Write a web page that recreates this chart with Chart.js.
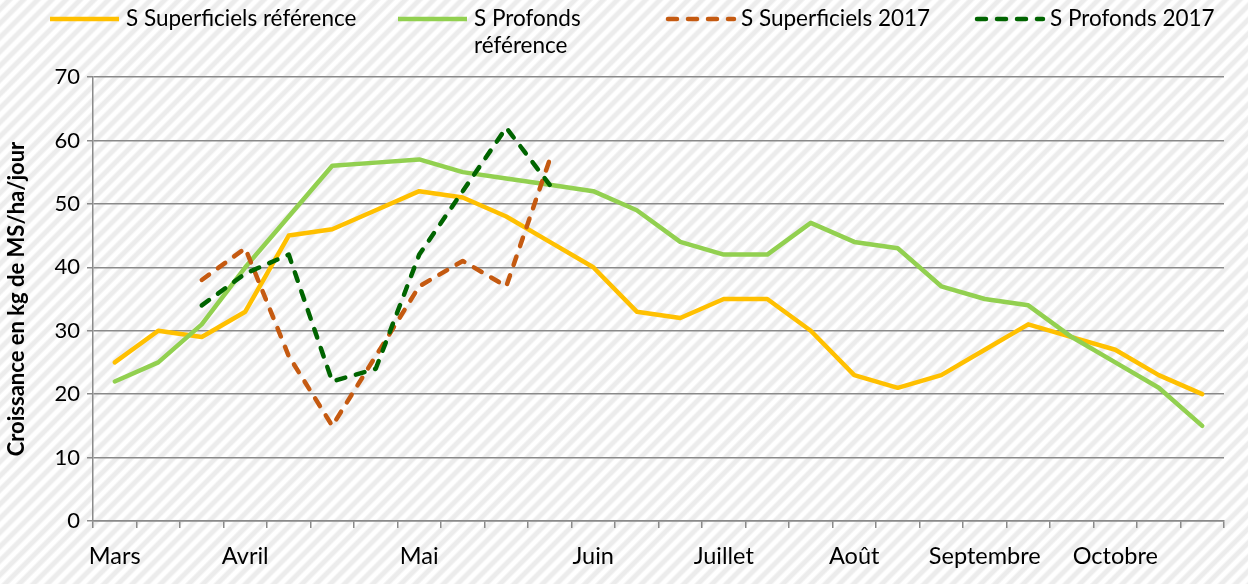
<!DOCTYPE html>
<html>
<head>
<meta charset="utf-8">
<script src="https://cdn.jsdelivr.net/npm/chart.js@4.4.1/dist/chart.umd.min.js"></script>
<style>
  html, body { margin: 0; padding: 0; }
  body {
    width: 1248px; height: 584px; overflow: hidden;
    background: repeating-linear-gradient(135deg, #ffffff 0px, #ffffff 3px, #ececec 5px, #ececec 8px, #ffffff 10px);
  }
  #wrap { position: relative; width: 1248px; height: 584px; }
</style>
</head>
<body>
<div id="wrap"><canvas id="c"></canvas></div>
<script>
// ---- data ----
const categories = ['Mars','','','Avril','','','','Mai','','','','Juin','','','Juillet','','','Août','','','Septembre','','','Octobre','',''];
const superficielsRef = [25,30,29,33,45,46,49,52,51,48,44,40,33,32,35,35,30,23,21,23,27,31,29,27,23,20];
const profondsRef = [22,25,31,40,48,56,56.5,57,55,54,53,52,49,44,42,42,47,44,43,37,35,34,29,25,21,15];
const superficiels2017 = [null,null,38,43,26,15,26,37,41,37,57,null,null,null,null,null,null,null,null,null,null,null,null,null,null,null];
const profonds2017 = [null,null,34,39,42,22,24,42,52,62,53,null,null,null,null,null,null,null,null,null,null,null,null,null,null,null];
const seriesNames = ['S Superficiels référence','S Profonds référence','S Superficiels 2017','S Profonds 2017'];
const legendLines = [['S Superficiels référence'],['S Profonds','référence'],['S Superficiels 2017'],['S Profonds 2017']];
const yTicks = [0,10,20,30,40,50,60,70];
const yTitle = 'Croissance en kg de MS/ha/jour';

const FONT = 'Lato, "Open Sans", sans-serif';
const GRID = '#8a8a8a';
const colors = ['#FFC000', '#92D050', '#C55A11', '#006400'];
const dash = [9, 11];

const legendPlugin = {
  id: 'excelLegend',
  afterDraw(chart) {
    const c = chart.ctx;
    const starts = [50, 398, 665, 974];
    const lineLen = 69, gap = 7, y0 = 19, lh = 27;
    c.save();
    chart.data.datasets.forEach((ds, i) => {
      const x = starts[i];
      c.beginPath();
      c.strokeStyle = ds.borderColor;
      c.lineWidth = 4.5;
      c.lineCap = ds.borderDash ? 'round' : 'butt';
      c.setLineDash(ds.borderDash || []);
      c.moveTo(x + (ds.borderDash ? 3 : 0), y0);
      c.lineTo(x + lineLen, y0);
      c.stroke();
      c.setLineDash([]);
      c.fillStyle = '#000';
      c.font = '22.5px ' + FONT;
      c.textBaseline = 'middle';
      c.textAlign = 'left';
      legendLines[i].forEach((t, k) => c.fillText(t, x + lineLen + gap, y0 + k * lh));
    });
    c.restore();
  }
};

const mk = (label, data, color, dashed, order) => ({
  label, data, borderColor: color, backgroundColor: color,
  borderWidth: 4.5, pointRadius: 0, pointHoverRadius: 0, tension: 0,
  borderDash: dashed ? dash : undefined,
  borderCapStyle: 'round', borderJoinStyle: 'round',
  spanGaps: false, order, fill: false
});

new Chart(document.getElementById('c'), {
  type: 'line',
  data: {
    labels: categories,
    datasets: [
      mk(seriesNames[0], superficielsRef, colors[0], false, 3),
      mk(seriesNames[1], profondsRef, colors[1], false, 2),
      mk(seriesNames[2], superficiels2017, colors[2], true, 1),
      mk(seriesNames[3], profonds2017, colors[3], true, 0)
    ]
  },
  options: {
    responsive: true,
    maintainAspectRatio: false,
    animation: false,
    devicePixelRatio: 1,
    layout: { padding: { top: 77, right: 24, left: 0, bottom: 0 } },
    plugins: { legend: { display: false }, tooltip: { enabled: false } },
    scales: {
      x: {
        type: 'category',
        offset: true,
        grid: { offset: true, drawOnChartArea: false, drawTicks: true, tickLength: 7, color: GRID, lineWidth: 1.5 },
        border: { display: true, color: GRID, width: 1.5 },
        ticks: { autoSkip: false, maxRotation: 0, minRotation: 0, padding: 14, color: '#000', font: { family: FONT, size: 23.5 } },
        afterFit: s => { s.height = 63; }
      },
      y: {
        min: 0, max: 70,
        afterBuildTicks: s => { s.ticks = yTicks.map(v => ({ value: v })); },
        ticks: { padding: 7, color: '#000', font: { family: FONT, size: 22 } },
        grid: { color: GRID, lineWidth: 1.5, tickLength: 6 },
        border: { display: true, color: GRID, width: 1.5 },
        title: { display: true, text: yTitle, color: '#000', font: { family: FONT, size: 22, weight: 'bold' }, padding: { top: 4, bottom: 0 } },
        afterFit: s => { s.width = 93; }
      }
    }
  },
  plugins: [legendPlugin]
});
</script>
</body>
</html>
